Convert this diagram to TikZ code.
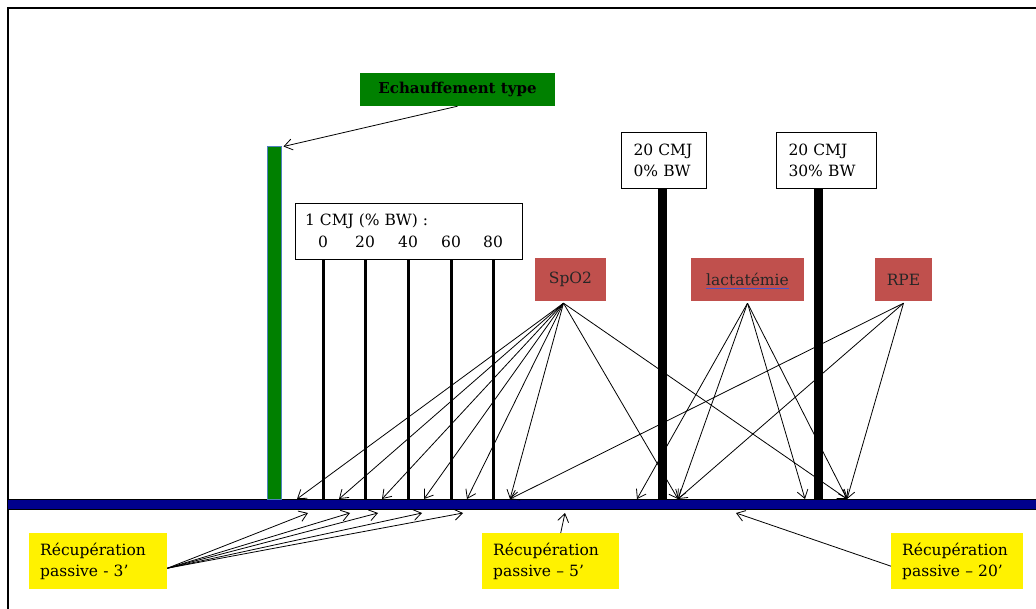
\documentclass[tikz,border=0pt]{standalone}
\usepackage{fontspec}
\setmainfont{DejaVu Serif}
\usetikzlibrary{arrows.meta,%
                backgrounds,positioning,%
                calc
              }
\definecolor{warmgreen}{RGB}{0,128,0}
\definecolor{measred}{RGB}{192,80,77}
\definecolor{timeblue}{RGB}{0,0,140}
\definecolor{shapeblue}{RGB}{79,129,189}
\definecolor{spellblue}{RGB}{75,85,200}

% x / load / number of the single jumps
\def\setofjumpbars{323/0/1, 365/20/2, 408/40/3, 451/60/4, 493/80/5}
% tips on the time line
\def\setoftimepoints{297/1, 339/2, 382/3, 424/4, 467/5, 510/6,
  637/7, 678/8, 805/9, 847/10}
% tips under the time line
\def\setofrestpoints{308/1, 350/2, 378/3, 422/4, 463/5, 565/6, 736/7}
\def\measarrows{spo/1, spo/2, spo/3, spo/4, spo/5, spo/6, spo/8, spo/10,%
  lac/7, lac/8, lac/9, lac/10,%
  rpe/6, rpe/8, rpe/10}
\def\restarrows{rec3/1, rec3/2, rec3/3, rec3/4, rec3/5, rec5/6, rec20/7}

\begin{document}
\begin{tikzpicture}[x=1pt,y=-1pt,
    every node/.style={inner sep=0pt,font=\fontsize{15.5}{21}\selectfont},
    tip/.style={-{Straight Barb[length=8pt,width=11pt]},line width=0.8pt},
    jumpbar/.style={fill=black,minimum width=#1,anchor=north},
    jumpbox/.style={draw,line width=1pt,fill=white,anchor=north west,
      minimum height=56pt,inner xsep=12pt,align=left,text width=#1},
    measbox/.style={fill=measred,minimum height=43pt,text=black!85},
    restbox/.style={fill=yellow,anchor=north west,minimum height=56pt,
      inner xsep=11pt,align=left,text width=#1}]

  \useasboundingbox (0,0) rectangle (1036,609);

  %% FRAME AND TIME LINE
  \draw[line width=2pt] (1036,8) -- (8,8) -- (8,609);
  \node[fill=timeblue,minimum width=1028pt,minimum height=10pt,
    anchor=north west] (timeline) at (8,499) {};
  \draw[line width=0.8pt] (timeline.north west) -- (timeline.north east)
    (timeline.south west) -- (timeline.south east);

  %% WARM UP
  \node[fill=warmgreen,draw=shapeblue,line width=0.5pt,minimum width=14pt,
    minimum height=352pt,anchor=south west] (warmbar) at (267,499) {};
  \node[fill=warmgreen,minimum width=195pt,minimum height=33pt,
    font=\fontsize{15}{18}\selectfont\bfseries] (warmbox) at (457.5,89.5)
    {Echauffement type};
  \draw[tip] (warmbox.south) -- ([xshift=2pt]warmbar.north east);

  %% JUMPS
  \foreach \x/\w/\n in \setofjumpbars {%
    \node[jumpbar=3pt,minimum height=240pt] (jb\n) at (\x,259) {};
  }
  \node[jumpbar=9pt,minimum height=311pt] (bara) at (662,188) {};
  \node[jumpbar=9pt,minimum height=311pt] (barb) at (818,188) {};

  \node[jumpbox=203pt] (cmjbox) at (295,203) {};
  \node[anchor=base west] (cmjlabel) at (305,226) {1 CMJ (\% BW) :};
  \foreach \x/\w/\n in \setofjumpbars {%
    \node[anchor=base] (jw\n) at (\x,248) {\w};
  }
  \node[jumpbox=61pt] (cmja) at (621,132) {20 CMJ\\0\% BW};
  \node[jumpbox=76pt] (cmjb) at (776,132) {20 CMJ\\30\% BW};

  %% MEASURES
  \node[measbox,minimum width=71pt] (spo) at (570.5,279.5) {SpO2};
  \node[measbox,minimum width=113pt] (lac) at (747.5,279.5) {};
  \node[text=black!85] (lactext) at (lac) {lactatémie};
  \draw[spellblue,line width=1.4pt] ([yshift=-3pt]lactext.base west)
    -- ([yshift=-3pt]lactext.base east);
  \node[measbox,minimum width=57pt] (rpe) at (903.5,279.5) {RPE};

  \coordinate (spo-out) at ([xshift=-7pt,yshift=-2pt]spo.south);
  \coordinate (lac-out) at ([yshift=-2pt]lac.south);
  \coordinate (rpe-out) at ([yshift=-2pt]rpe.south);

  \foreach \x/\n in \setoftimepoints {%
    \coordinate (tp\n) at (\x,499);
  }
  \foreach \src/\n in \measarrows {%
    \draw[tip] (\src-out) -- (tp\n);
  }

  %% RECOVERY
  \node[restbox=116pt] (rec3) at (29,533) {Récupération\\passive - 3’};
  \node[restbox=115pt] (rec5) at (482,533) {Récupération\\passive – 5’};
  \node[restbox=110pt] (rec20) at (891,533) {Récupération\\passive – 20’};

  \coordinate (rec3-out) at ([yshift=-7pt]rec3.east);
  \coordinate (rec5-out) at ([xshift=10pt]rec5.north);
  \coordinate (rec20-out) at ([yshift=-5pt]rec20.west);

  \foreach \x/\n in \setofrestpoints {%
    \coordinate (rp\n) at (\x,513);
  }
  \foreach \src/\n in \restarrows {%
    \draw[tip] (\src-out) -- (rp\n);
  }

\end{tikzpicture}
\end{document}
